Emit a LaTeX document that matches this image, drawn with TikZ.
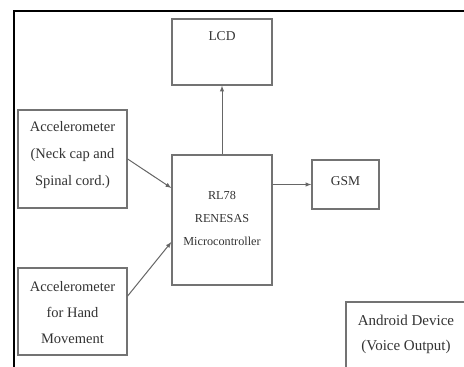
\documentclass[tikz,border=0pt]{standalone}
\usepackage{fontspec}
\setmainfont{Liberation Serif}
\usepackage{tikz}
\usetikzlibrary{arrows.meta}
\tikzset{>=latex}
\usepackage{xcolor}
\colorlet{boxgray}{black!55}
\colorlet{linegray}{black!60}
\tikzstyle{block}=[draw=boxgray,line width=1.3pt,inner sep=0pt]
\tikzstyle{txt}=[align=center,inner sep=0pt,font=\fontsize{13.5}{26}\selectfont,text=black!80]
\tikzstyle{conn}=[->,linegray,line width=1pt]

\begin{document}
\begin{tikzpicture}[x=1pt,y=-1pt]

    \useasboundingbox (0,0) rectangle (464,367);
    \fill[white] (0,0) rectangle (464,367);

    % outer frame
    \draw[line width=1.5pt] (464,11) -- (14,11) -- (14,367);

    % blocks
    \node[block,minimum width=100pt,minimum height=66pt] (lcd) at (222,52) {};
    \node[txt] (lcdtxt) at (222,36) {LCD};

    \node[block,minimum width=109pt,minimum height=98pt] (acc1) at (72.5,159) {};
    \node[txt,font=\fontsize{14.5}{27}\selectfont] (acc1txt) at (72.5,155) {Accelerometer\\(Neck cap and\\Spinal cord.)};

    \node[block,minimum width=100pt,minimum height=130pt] (micro) at (222,220) {};
    \node[txt,font=\fontsize{12.2}{23}\selectfont] (microtxt) at (222,219) {RL78\\RENESAS\\Microcontroller};

    \node[block,minimum width=67pt,minimum height=49pt] (gsm) at (345.5,184.5) {};
    \node[txt] (gsmtxt) at (345.5,181) {GSM};

    \node[block,minimum width=109pt,minimum height=87pt] (acc2) at (72.5,311.5) {};
    \node[txt,font=\fontsize{14.5}{26}\selectfont] (acc2txt) at (72.5,313) {Accelerometer\\for Hand\\Movement};

    \draw[block] (466,302) -- (346,302) -- (346,369);
    \node[txt,font=\fontsize{15}{25}\selectfont] (andtxt) at (406,334.5) {Android Device\\(Voice Output)};

    % connectors
    \draw[conn] (micro.north) -- (lcd.south);
    \draw[conn] (micro.east |- gsm.west) -- (gsm.west);
    \draw[conn] (acc1.east) -- (micro.west |- 0,188);
    \draw[conn] (acc2.east |- 0,296) -- (micro.west |- 0,242);

\end{tikzpicture}
\end{document}
